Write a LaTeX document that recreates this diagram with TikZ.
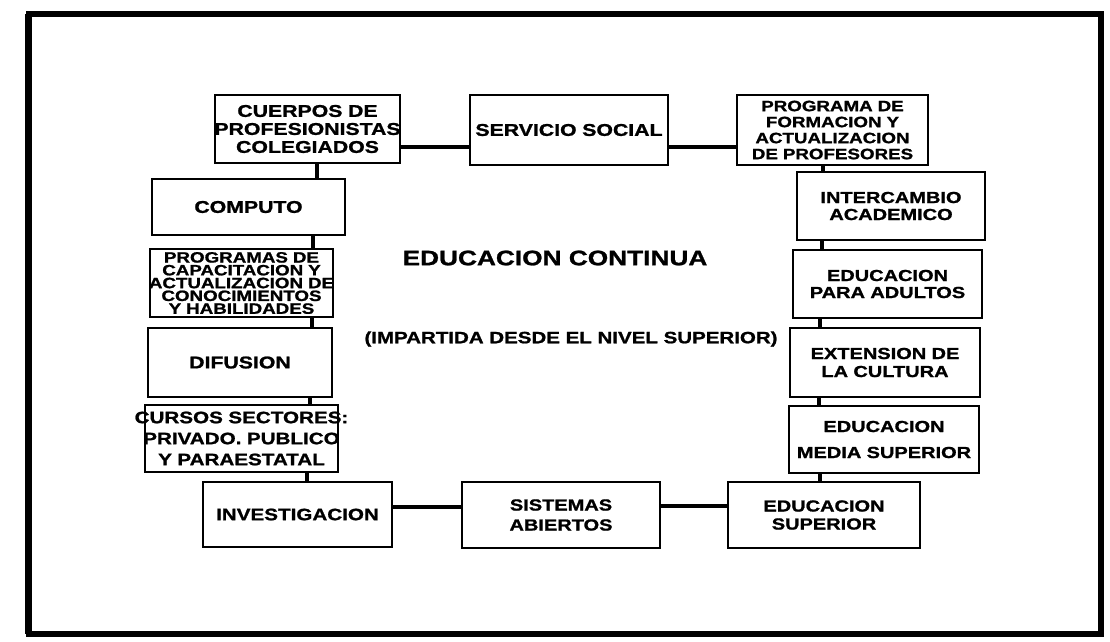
\documentclass[tikz,border=0pt]{standalone}
\usepackage{fontspec}
\setmainfont{Liberation Sans}[FakeStretch=1.25, BoldFeatures={FakeBold=1.2}]
\newcommand{\ovl}[1]{\makebox[0pt]{#1}}
\begin{document}
\begin{tikzpicture}[x=1pt,y=-1pt,
  box/.style={draw, line width=1.6pt, inner xsep=0pt, inner ysep=0pt, align=center,
    font=\bfseries\fontsize{17}{18}\selectfont},
  conn/.style={line width=3.5pt},
  frame/.style={line width=6.5pt, line join=miter}]
\useasboundingbox (0,0) rectangle (1110,641);
\draw[frame] (29,14) -- (1101,14) -- (1101,634) -- (29,634) -- cycle;
\draw[line width=3pt] (26,14) -- (26,634);
% top row
\node[box, text width=185pt, minimum height=68pt] (cuerpos) at (307.5,129) {CUERPOS DE\\\ovl{PROFESIONISTAS}\\COLEGIADOS};
\node[box, text width=198pt, minimum height=70pt] (servicio) at (569,130) {SERVICIO SOCIAL};
\node[box, text width=191pt, minimum height=70pt, font=\bfseries\fontsize{15}{16}\selectfont] (programa) at (832.5,130) {PROGRAMA DE\\FORMACION Y\\ACTUALIZACION\\DE PROFESORES};
% right column
\node[box, text width=188pt, minimum height=68pt, font=\bfseries\fontsize{16}{17}\selectfont] (intercambio) at (891,206) {INTERCAMBIO\\ACADEMICO};
\node[box, text width=189pt, minimum height=68pt, font=\bfseries\fontsize{16}{17}\selectfont] (adultos) at (887.5,284) {EDUCACION\\PARA ADULTOS};
\node[box, text width=190pt, minimum height=69pt, font=\bfseries\fontsize{16}{18}\selectfont] (extension) at (885,362.5) {EXTENSION DE\\LA CULTURA};
\node[box, text width=190pt, minimum height=67pt, font=\bfseries\fontsize{16}{26}\selectfont] (media) at (884,439.5) {EDUCACION\\\ovl{MEDIA SUPERIOR}};
% bottom row
\node[box, text width=192pt, minimum height=66pt, font=\bfseries\fontsize{16}{18}\selectfont] (superior) at (824,515) {EDUCACION\\SUPERIOR};
\node[box, text width=198pt, minimum height=66pt, font=\bfseries\fontsize{16}{20}\selectfont] (sistemas) at (561,515) {SISTEMAS\\ABIERTOS};
\node[box, text width=189pt, minimum height=65pt, font=\bfseries\fontsize{16.5}{18}\selectfont] (investigacion) at (297.5,514.5) {INVESTIGACION};
% left column
\node[box, text width=193pt, minimum height=67pt, font=\bfseries\fontsize{16.5}{21}\selectfont] (cursos) at (241.5,438.5) {\ovl{CURSOS SECTORES:}\\\ovl{PRIVADO. PUBLICO}\\Y PARAESTATAL};
\node[box, text width=184pt, minimum height=69pt] (difusion) at (240,362.5) {DIFUSION};
\node[box, text width=183pt, minimum height=68pt, font=\bfseries\fontsize{15}{12.8}\selectfont] (capacitacion) at (241.5,283) {\ovl{PROGRAMAS DE}\\\ovl{CAPACITACION Y}\\\ovl{ACTUALIZACION DE}\\\ovl{CONOCIMIENTOS}\\\ovl{Y HABILIDADES}};
\node[box, text width=193pt, minimum height=56pt] (computo) at (248.5,207) {COMPUTO};
% centre texts
\node[font=\bfseries\fontsize{21}{24}\selectfont] (title) at (555,258) {EDUCACION CONTINUA};
\node[font=\bfseries\fontsize{16.4}{20}\selectfont] (sub) at (571,339) {(IMPARTIDA DESDE EL NIVEL SUPERIOR)};
% connectors
\draw[conn] (cuerpos.east |- 0,147) -- (servicio.west |- 0,147);
\draw[conn] (servicio.east |- 0,147) -- (programa.west |- 0,147);
\draw[conn] (programa.south -| 823,0) -- (intercambio.north -| 823,0);
\draw[conn] (intercambio.south -| 822,0) -- (adultos.north -| 822,0);
\draw[conn] (adultos.south -| 820,0) -- (extension.north -| 820,0);
\draw[conn] (extension.south -| 819,0) -- (media.north -| 819,0);
\draw[conn] (media.south -| 820,0) -- (superior.north -| 820,0);
\draw[conn] (superior.west |- 0,506) -- (sistemas.east |- 0,506);
\draw[conn] (sistemas.west |- 0,507) -- (investigacion.east |- 0,507);
\draw[conn] (investigacion.north -| 307,0) -- (cursos.south -| 307,0);
\draw[conn] (cursos.north -| 310,0) -- (difusion.south -| 310,0);
\draw[conn] (difusion.north -| 312,0) -- (capacitacion.south -| 312,0);
\draw[conn] (capacitacion.north -| 313,0) -- (computo.south -| 313,0);
\draw[conn] (computo.north -| 317,0) -- (cuerpos.south -| 317,0);
\end{tikzpicture}
\end{document}
